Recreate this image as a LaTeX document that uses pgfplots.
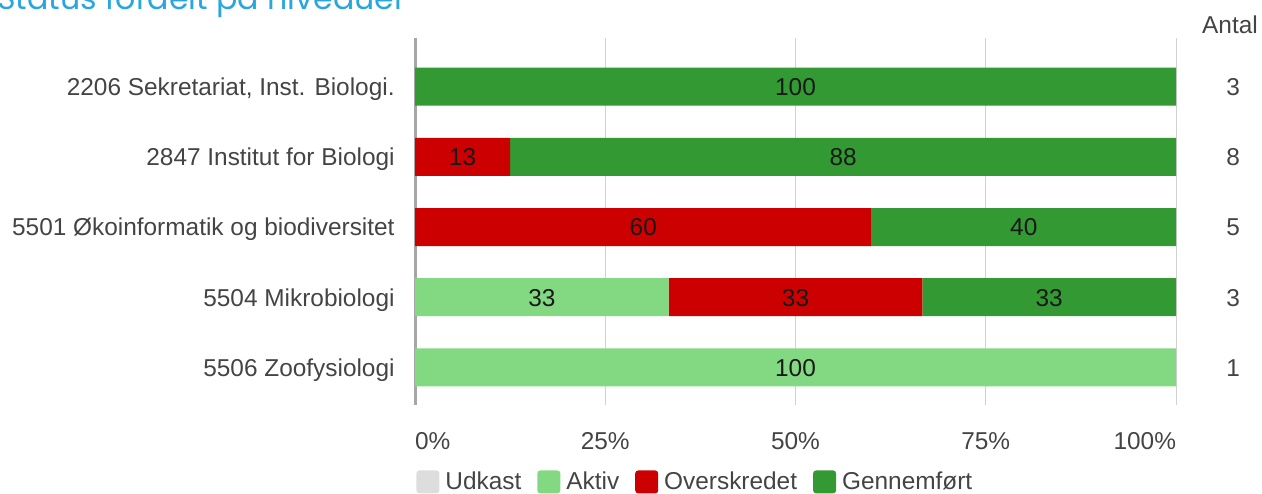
\documentclass[border=0pt]{standalone}
\usepackage{fontspec}
\setmainfont{Liberation Sans}
\newfontfamily\titlefont{Poppins}
\usepackage{pgfplots}
\pgfplotsset{compat=1.18}
\definecolor{udk}{HTML}{DDDDDD}
\definecolor{akt}{HTML}{83D982}
\definecolor{ovs}{HTML}{CC0000}
\definecolor{gen}{HTML}{339933}
\definecolor{titleblue}{HTML}{29A6DE}
\definecolor{txt}{HTML}{444444}
\newcommand{\lf}{\fontsize{12.2}{14}\selectfont}
\begin{document}
\begin{tikzpicture}
\path[use as bounding box] (0,0) rectangle (631pt,-246.5pt);
\node[anchor=base west, inner sep=0pt, text=titleblue, font=\titlefont\fontsize{15.8}{18}\selectfont] at (-1.5pt,-4.5pt) {Status fordelt på niveauer};
\node[anchor=base, inner sep=0pt, text=txt, font=\lf] at (615pt,-16.5pt) {Antal};
\begin{axis}[
  at={(207.5pt,-202.5pt)}, anchor=south west,
  scale only axis, width=380.5pt, height=183.5pt,
  xmin=0, xmax=100, ymin=-0.536, ymax=4.693,
  xbar stacked, bar width=19pt,
  axis line style={draw=none}, major tick length=0pt,
  xtick={25,50,75,100},
  xticklabels={25\%,50\%,75\%,\makebox[0pt][r]{100\%}},
  extra x ticks={0}, extra x tick labels={\makebox[0pt][l]{0\%}},
  extra x tick style={grid style={black!35, line width=1.5pt}},
  xticklabel style={anchor=base, yshift=-22pt, inner sep=0pt, font=\lf, text=txt},
  ytick={0,1,2,3,4},
  yticklabels={5506 Zoofysiologi, 5504 Mikrobiologi, 5501 Økoinformatik og biodiversitet, 2847 Institut for Biologi, 2206 Sekretariat{,} Inst. Biologi.},
  yticklabel style={anchor=base east, inner sep=0pt, xshift=-10pt, yshift=-4.4pt, font=\lf, text=txt},
  xmajorgrids, grid style={black!18, line width=0.5pt},
  legend image code/.code={\fill[#1, draw=none, rounded corners=1.5pt] (0pt,-5.75pt) rectangle (11.5pt,5.75pt);},
  legend style={at={(axis description cs:0,0)}, anchor=north west, xshift=0.5pt, yshift=-32.5pt,
    draw=none, fill=none, inner sep=0pt, font=\lf, text=txt, legend columns=4,
    nodes={inner sep=0pt},
    /tikz/every odd column/.style={column sep=3pt},
    /tikz/every even column/.style={column sep=8pt}},
]
\addplot[fill=udk, draw=none] coordinates {(0,4) (0,3) (0,2) (0,1) (0,0)};
\addplot[fill=akt, draw=none] coordinates {(0,4) (0,3) (0,2) (33.333,1) (100,0)};
\addplot[fill=ovs, draw=none] coordinates {(0,4) (12.5,3) (60,2) (33.333,1) (0,0)};
\addplot[fill=gen, draw=none] coordinates {(100,4) (87.5,3) (40,2) (33.334,1) (0,0)};
\legend{Udkast, Aktiv, Overskredet, Gennemført}
\end{axis}
\begin{axis}[
  at={(207.5pt,-202.5pt)}, anchor=south west,
  scale only axis, width=380.5pt, height=183.5pt,
  xmin=0, xmax=100, ymin=-0.536, ymax=4.693,
  hide axis, clip=false,
]
\addplot[draw=none, mark=none, nodes near coords, point meta=explicit symbolic,
  nodes near coords style={anchor=base, inner sep=0pt, yshift=-4.4pt, font=\lf, text=black!90}]
  table[meta=label] {
x y label
50 4 100
6.25 3 13
56.25 3 88
30 2 60
80 2 40
16.667 1 33
50 1 33
83.333 1 33
50 0 100
};
\addplot[draw=none, mark=none, nodes near coords, point meta=explicit symbolic,
  nodes near coords style={anchor=base, inner sep=0pt, yshift=-4.4pt, font=\lf, text=txt}]
  table[meta=label] {
x y label
107.5 4 3
107.5 3 8
107.5 2 5
107.5 1 3
107.5 0 1
};
\end{axis}
\end{tikzpicture}
\end{document}
